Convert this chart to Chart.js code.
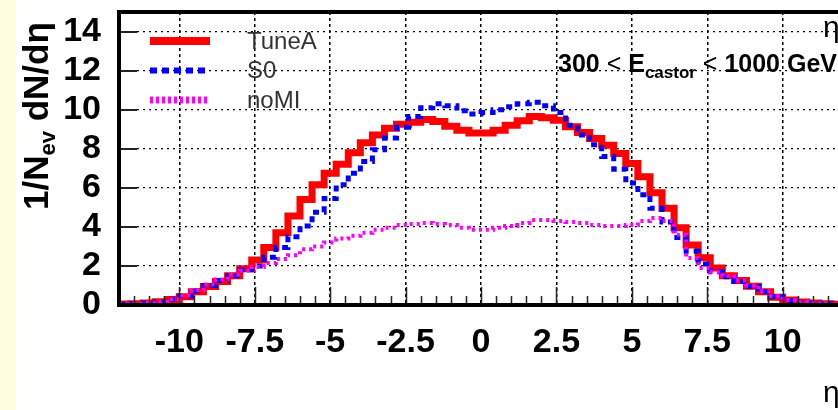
<!DOCTYPE html>
<html>
<head>
<meta charset="utf-8">
<script src="https://cdn.jsdelivr.net/npm/chart.js@4.4.1/dist/chart.umd.min.js"></script>
<style>
  html, body { margin: 0; padding: 0; background: #fff; overflow: hidden; }
  #wrap { position: relative; width: 838px; height: 410px; overflow: hidden; background: #fff; }
  #strip { position: absolute; left: 0; top: 0; width: 15px; height: 410px; background: #ffffdc; }
  canvas { position: absolute; left: 0; top: 0; }
</style>
</head>
<body>
<div id="wrap">
  <div id="strip"></div>
  <canvas id="etaChart" width="850" height="410"></canvas>
</div>
<script>
// eta binning: 60 bins of 0.4 between -12 and 12
const etaMin = -12;
const binWidth = 0.4;

// 1/Nev dN/deta per bin
const tuneA = [
  0.05, 0.07, 0.10, 0.16, 0.28, 0.42, 0.68, 0.95, 1.20, 1.50,
  1.85, 2.30, 2.95, 3.70, 4.55, 5.40, 6.15, 6.75, 7.20, 7.80,
  8.30, 8.70, 9.05, 9.25, 9.35, 9.50, 9.40, 9.15, 8.95, 8.80,
  8.80, 8.95, 9.20, 9.43, 9.65, 9.58, 9.46, 9.12, 8.83, 8.53,
  8.18, 7.76, 7.25, 6.56, 5.75, 4.95, 3.95, 3.07, 2.42, 1.90,
  1.50, 1.25, 0.96, 0.68, 0.40, 0.26, 0.15, 0.10, 0.07, 0.04
];
const s0 = [
  0.04, 0.07, 0.10, 0.15, 0.30, 0.46, 0.72, 1.00, 1.25, 1.50,
  1.80, 2.00, 2.45, 2.95, 3.50, 4.05, 4.75, 5.45, 6.15, 6.75,
  7.35, 7.95, 8.55, 9.10, 9.65, 10.10, 10.30, 10.20, 9.95, 9.78,
  9.85, 10.00, 10.15, 10.30, 10.38, 10.20, 9.85, 9.20, 8.70, 8.20,
  7.60, 6.95, 6.25, 5.65, 4.95, 4.25, 3.45, 2.75, 2.10, 1.70,
  1.45, 1.20, 0.95, 0.68, 0.42, 0.22, 0.14, 0.10, 0.07, 0.05
];
const noMI = [
  0.04, 0.07, 0.10, 0.16, 0.30, 0.48, 0.75, 1.05, 1.30, 1.55,
  1.75, 1.95, 2.15, 2.35, 2.55, 2.85, 3.00, 3.20, 3.40, 3.55,
  3.70, 3.85, 3.95, 4.10, 4.15, 4.20, 4.15, 4.10, 3.95, 3.85,
  3.85, 3.95, 4.05, 4.20, 4.35, 4.35, 4.30, 4.25, 4.20, 4.10,
  4.05, 4.05, 4.10, 4.30, 4.45, 4.30, 3.60, 2.40, 1.90, 1.70,
  1.48, 1.25, 1.00, 0.70, 0.45, 0.25, 0.15, 0.10, 0.06, 0.04
];

const xTicks = [-10, -7.5, -5, -2.5, 0, 2.5, 5, 7.5, 10];
const yTicks = [0, 2, 4, 6, 8, 10, 12, 14];

const FONT = "'Liberation Sans', Arial, sans-serif";

// left bin edges plus the closing edge, drawn as a step line
function toSteps(values) {
  const pts = values.map((v, i) => ({ x: etaMin + i * binWidth, y: v }));
  pts.push({ x: etaMin + values.length * binWidth, y: values[values.length - 1] });
  return pts;
}

const legendItems = [
  { label: 'TuneA', color: '#ff0000', width: 8, dash: [] },
  { label: 'S0', color: '#0000ff', width: 6, dash: [7, 5] },
  { label: 'noMI', color: '#ff00ff', width: 7, dash: [3, 3] }
];

function drawRich(ctx, x, y, parts) {
  let cx = x;
  parts.forEach(p => {
    ctx.font = p.font;
    ctx.fillText(p.text, cx, y + (p.dy || 0));
    cx += ctx.measureText(p.text).width;
  });
}

// no extra room for the end labels, the plot box is placed by hand
function noPad(s) {
  s.paddingTop = 0;
  s.paddingBottom = 0;
  s.paddingLeft = 0;
  s.paddingRight = 0;
}

// frame, inner ticks, legend and labels in the ROOT style
const rootStyle = {
  id: 'rootStyle',
  afterDraw(chart) {
    const ctx = chart.ctx;
    const area = chart.chartArea;
    const xs = chart.scales.x;
    const ys = chart.scales.y;
    ctx.save();

    // ticks on the bottom axis, every 0.5 with long ones every 2.5
    ctx.strokeStyle = '#222';
    ctx.lineWidth = 1.5;
    for (let k = -24; k <= 24; k++) {
      const px = Math.round(xs.getPixelForValue(k * 0.5)) + 0.5;
      const len = k % 5 === 0 ? 18 : 9;
      ctx.beginPath();
      ctx.moveTo(px, area.bottom);
      ctx.lineTo(px, area.bottom - len);
      ctx.stroke();
    }
    ctx.lineWidth = 2;
    yTicks.forEach(v => {
      const py = Math.round(ys.getPixelForValue(v));
      ctx.beginPath();
      ctx.moveTo(area.left, py);
      ctx.lineTo(area.left + 18, py);
      ctx.stroke();
    });

    // frame
    ctx.strokeStyle = '#000';
    ctx.lineWidth = 4;
    ctx.strokeRect(area.left, area.top, area.right - area.left, area.bottom - area.top);

    // legend
    legendItems.forEach((item, i) => {
      const y = 41 + i * 29.5;
      ctx.strokeStyle = item.color;
      ctx.lineWidth = item.width;
      ctx.setLineDash(item.dash);
      ctx.beginPath();
      ctx.moveTo(150, y);
      ctx.lineTo(210, y);
      ctx.stroke();
      ctx.setLineDash([]);
      ctx.fillStyle = '#333';
      ctx.font = '24px ' + FONT;
      ctx.textBaseline = 'middle';
      ctx.fillText(item.label, 247, y + 1);
    });

    ctx.textBaseline = 'alphabetic';
    ctx.fillStyle = '#000';

    // energy selection
    const b25 = 'bold 25px ' + FONT;
    const r25 = '25px ' + FONT;
    drawRich(ctx, 558, 72, [
      { text: '300 ', font: b25 },
      { text: '< ', font: r25 },
      { text: 'E', font: b25 },
      { text: 'castor', font: 'bold 17px ' + FONT, dy: 6 },
      { text: ' < ', font: r25 },
      { text: '1000 GeV', font: b25 }
    ]);

    // eta labels at the right edge
    ctx.font = '30px ' + FONT;
    ctx.fillText('\u03b7', 823, 37);
    ctx.fillText('\u03b7', 823, 402);

    // y axis title
    ctx.translate(48, 210);
    ctx.rotate(-Math.PI / 2);
    drawRich(ctx, 0, 0, [
      { text: '1/N', font: 'bold 35px ' + FONT },
      { text: 'ev', font: 'bold 22px ' + FONT, dy: 7 },
      { text: ' dN/d\u03b7', font: 'bold 35px ' + FONT }
    ]);

    ctx.restore();
  }
};

new Chart(document.getElementById('etaChart'), {
  type: 'line',
  data: {
    datasets: [
      {
        label: 'TuneA',
        data: toSteps(tuneA),
        borderColor: '#ff0000',
        borderWidth: 7,
        stepped: 'before',
        pointRadius: 0,
        fill: false,
        order: 3
      },
      {
        label: 'S0',
        data: toSteps(s0),
        borderColor: '#0000ff',
        borderWidth: 5,
        borderDash: [6, 5],
        stepped: 'before',
        pointRadius: 0,
        fill: false,
        order: 2
      },
      {
        label: 'noMI',
        data: toSteps(noMI),
        borderColor: '#ff00ff',
        borderWidth: 4,
        borderDash: [3, 4],
        stepped: 'before',
        pointRadius: 0,
        fill: false,
        order: 1
      }
    ]
  },
  options: {
    responsive: false,
    animation: false,
    devicePixelRatio: 1,
    layout: { padding: { top: 12, right: 7, left: 0, bottom: 0 } },
    plugins: {
      legend: { display: false },
      tooltip: { enabled: false }
    },
    scales: {
      x: {
        type: 'linear',
        min: -12,
        max: 12,
        afterBuildTicks: s => { s.ticks = xTicks.map(v => ({ value: v })); },
        afterFit: s => { s.height = 105; noPad(s); },
        ticks: {
          color: '#000',
          font: { family: FONT, weight: 'bold', size: 34 },
          padding: 17,
          maxRotation: 0,
          autoSkip: false,
          callback: v => String(v)
        },
        grid: { color: '#000', lineWidth: 1.5, drawTicks: false },
        border: { display: false, dash: [3, 3] }
      },
      y: {
        min: 0,
        max: 15,
        afterBuildTicks: s => { s.ticks = yTicks.map(v => ({ value: v })); },
        afterFit: s => { s.width = 119; noPad(s); },
        ticks: {
          color: '#000',
          font: { family: FONT, weight: 'bold', size: 34 },
          padding: 18,
          autoSkip: false,
          callback: v => String(v)
        },
        grid: { color: '#000', lineWidth: 1.2, drawTicks: false },
        border: { display: false, dash: [2, 4] }
      }
    }
  },
  plugins: [rootStyle]
});
</script>
</body>
</html>
